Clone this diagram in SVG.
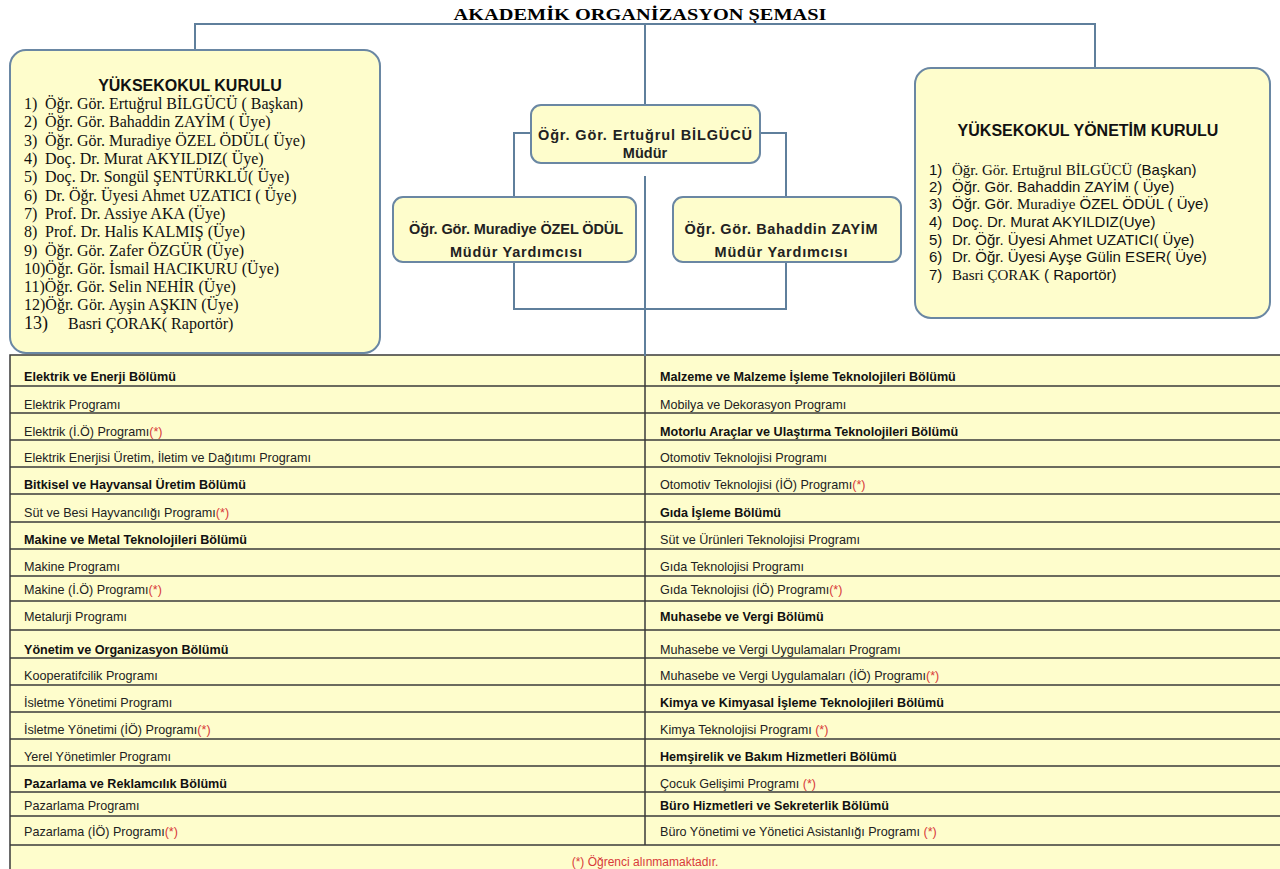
<svg xmlns="http://www.w3.org/2000/svg" width="1280" height="869" viewBox="0 0 1280 869">
<style>
.bg{fill:#ffffff}
.box{fill:#fefdcc;stroke:#6a87a3;stroke-width:2}
.conn{fill:none;stroke:#5f7f9c;stroke-width:2}
.tbl{fill:#fefdcc;stroke:#3a3a3a;stroke-width:1.5}
.rl{stroke:#3a3a3a;stroke-width:1.5}
.title{font-family:"Liberation Serif","Times New Roman",serif;font-weight:bold;font-size:17px;fill:#000}
.hd{font-family:"Liberation Sans",Arial,sans-serif;font-weight:bold;font-size:16px;fill:#111}
.ser{font-family:"Liberation Serif","Times New Roman",serif;font-size:16px;fill:#111}
.san{font-family:"Liberation Sans",Arial,sans-serif;font-size:15px;fill:#111}
.sr{font-family:"Liberation Serif","Times New Roman",serif}
.nb{font-family:"Liberation Sans",Arial,sans-serif;font-weight:bold;font-size:14.5px;fill:#222}
.t{font-family:"Liberation Sans",Arial,sans-serif;font-size:12.6px;fill:#222}
.b{font-weight:bold;fill:#111}
.red{fill:#d83a3a}
.note{font-family:"Liberation Sans",Arial,sans-serif;font-size:12px;fill:#d83a3a}
</style>
<rect class="bg" x="0" y="0" width="1280" height="869"/>
<text class="title" x="640" y="20" text-anchor="middle" textLength="373" lengthAdjust="spacingAndGlyphs">AKADEMİK ORGANİZASYON ŞEMASI</text>

<g id="table">
<rect class="tbl" x="10" y="355" width="1272" height="520"/>
<line class="rl" x1="10" y1="386" x2="1282" y2="386"/>
<line class="rl" x1="10" y1="413" x2="1282" y2="413"/>
<line class="rl" x1="10" y1="440" x2="1282" y2="440"/>
<line class="rl" x1="10" y1="467" x2="1282" y2="467"/>
<line class="rl" x1="10" y1="494" x2="1282" y2="494"/>
<line class="rl" x1="10" y1="522" x2="1282" y2="522"/>
<line class="rl" x1="10" y1="549" x2="1282" y2="549"/>
<line class="rl" x1="10" y1="576" x2="1282" y2="576"/>
<line class="rl" x1="10" y1="601" x2="1282" y2="601"/>
<line class="rl" x1="10" y1="630" x2="1282" y2="630"/>
<line class="rl" x1="10" y1="658" x2="1282" y2="658"/>
<line class="rl" x1="10" y1="685" x2="1282" y2="685"/>
<line class="rl" x1="10" y1="712" x2="1282" y2="712"/>
<line class="rl" x1="10" y1="739" x2="1282" y2="739"/>
<line class="rl" x1="10" y1="766" x2="1282" y2="766"/>
<line class="rl" x1="10" y1="792" x2="1282" y2="792"/>
<line class="rl" x1="10" y1="816" x2="1282" y2="816"/>
<line class="rl" x1="10" y1="845" x2="1282" y2="845"/>
<line class="rl" x1="645" y1="355" x2="645" y2="845"/>
<text class="t b" x="24" y="381">Elektrik ve Enerji Bölümü</text>
<text class="t" x="24" y="409">Elektrik Programı</text>
<text class="t" x="24" y="436">Elektrik (İ.Ö) Programı<tspan class="red">(*)</tspan></text>
<text class="t" x="24" y="462">Elektrik Enerjisi Üretim, İletim ve Dağıtımı Programı</text>
<text class="t b" x="24" y="489">Bitkisel ve Hayvansal Üretim Bölümü</text>
<text class="t" x="24" y="517">Süt ve Besi Hayvancılığı Programı<tspan class="red">(*)</tspan></text>
<text class="t b" x="24" y="544">Makine ve Metal Teknolojileri Bölümü</text>
<text class="t" x="24" y="571">Makine Programı</text>
<text class="t" x="24" y="594">Makine (İ.Ö) Programı<tspan class="red">(*)</tspan></text>
<text class="t" x="24" y="621">Metalurji Programı</text>
<text class="t b" x="24" y="654">Yönetim ve Organizasyon Bölümü</text>
<text class="t" x="24" y="680">Kooperatifcilik Programı</text>
<text class="t" x="24" y="707">İsletme Yönetimi Programı</text>
<text class="t" x="24" y="734">İsletme Yönetimi (İÖ) Programı<tspan class="red">(*)</tspan></text>
<text class="t" x="24" y="761">Yerel Yönetimler Programı</text>
<text class="t b" x="24" y="788">Pazarlama ve Reklamcılık Bölümü</text>
<text class="t" x="24" y="810">Pazarlama Programı</text>
<text class="t" x="24" y="836">Pazarlama (İÖ) Programı<tspan class="red">(*)</tspan></text>

<text class="t b" x="660" y="381">Malzeme ve Malzeme İşleme Teknolojileri Bölümü</text>
<text class="t" x="660" y="409">Mobilya ve Dekorasyon Programı</text>
<text class="t b" x="660" y="436">Motorlu Araçlar ve Ulaştırma Teknolojileri Bölümü</text>
<text class="t" x="660" y="462">Otomotiv Teknolojisi Programı</text>
<text class="t" x="660" y="489">Otomotiv Teknolojisi (İÖ) Programı<tspan class="red">(*)</tspan></text>
<text class="t b" x="660" y="517">Gıda İşleme Bölümü</text>
<text class="t" x="660" y="544">Süt ve Ürünleri Teknolojisi Programı</text>
<text class="t" x="660" y="571">Gıda Teknolojisi Programı</text>
<text class="t" x="660" y="594">Gıda Teknolojisi (İÖ) Programı<tspan class="red">(*)</tspan></text>
<text class="t b" x="660" y="621">Muhasebe ve Vergi Bölümü</text>
<text class="t" x="660" y="654">Muhasebe ve Vergi Uygulamaları Programı</text>
<text class="t" x="660" y="680">Muhasebe ve Vergi Uygulamaları (İÖ) Programı<tspan class="red">(*)</tspan></text>
<text class="t b" x="660" y="707">Kimya ve Kimyasal İşleme Teknolojileri Bölümü</text>
<text class="t" x="660" y="734">Kimya Teknolojisi Programı <tspan class="red">(*)</tspan></text>
<text class="t b" x="660" y="761">Hemşirelik ve Bakım Hizmetleri Bölümü</text>
<text class="t" x="660" y="788">Çocuk Gelişimi Programı <tspan class="red">(*)</tspan></text>
<text class="t b" x="660" y="810">Büro Hizmetleri ve Sekreterlik Bölümü</text>
<text class="t" x="660" y="836">Büro Yönetimi ve Yönetici Asistanlığı Programı <tspan class="red">(*)</tspan></text>
<text class="note" x="645" y="866" text-anchor="middle">(*) Öğrenci alınmamaktadır.</text>
</g>

<g id="connectors">
<polyline class="conn" points="195,50 195,24 1095,24 1095,68"/>
<line class="conn" x1="645" y1="24" x2="645" y2="105"/>
<polyline class="conn" points="531,133 514,133 514,197"/>
<polyline class="conn" points="760,133 786,133 786,197"/>
<polyline class="conn" points="514,262 514,309 786,309 786,262"/>
<line class="conn" x1="645" y1="176" x2="645" y2="356"/>
</g>

<g id="yuksekokul-kurulu">
<rect class="box" x="10" y="50" width="370" height="303" rx="16"/>
<text class="hd" x="190" y="91" text-anchor="middle">YÜKSEKOKUL KURULU</text>
<text class="ser" y="109"><tspan x="24">1)</tspan><tspan x="45">Öğr. Gör. Ertuğrul BİLGÜCÜ ( Başkan)</tspan></text>
<text class="ser" y="127"><tspan x="24">2)</tspan><tspan x="45">Öğr. Gör. Bahaddin ZAYİM ( Üye)</tspan></text>
<text class="ser" y="146"><tspan x="24">3)</tspan><tspan x="45">Öğr. Gör. Muradiye ÖZEL ÖDÜL( Üye)</tspan></text>
<text class="ser" y="164"><tspan x="24">4)</tspan><tspan x="45">Doç. Dr. Murat AKYILDIZ( Üye)</tspan></text>
<text class="ser" y="182"><tspan x="24">5)</tspan><tspan x="45">Doç. Dr. Songül ŞENTÜRKLÜ( Üye)</tspan></text>
<text class="ser" y="201"><tspan x="24">6)</tspan><tspan x="45">Dr. Öğr. Üyesi Ahmet UZATICI ( Üye)</tspan></text>
<text class="ser" y="219"><tspan x="24">7)</tspan><tspan x="45">Prof. Dr. Assiye AKA (Üye)</tspan></text>
<text class="ser" y="237"><tspan x="24">8)</tspan><tspan x="45">Prof. Dr. Halis KALMIŞ (Üye)</tspan></text>
<text class="ser" y="256"><tspan x="24">9)</tspan><tspan x="45">Öğr. Gör. Zafer ÖZGÜR (Üye)</tspan></text>
<text class="ser" x="24" y="274">10)Öğr. Gör. İsmail HACIKURU (Üye)</text>
<text class="ser" x="24" y="292">11)Öğr. Gör. Selin NEHİR (Üye)</text>
<text class="ser" x="24" y="310">12)Öğr. Gör. Ayşin AŞKIN (Üye)</text>
<text class="ser" y="329"><tspan x="24" font-size="18">13)</tspan><tspan x="68">Basri ÇORAK( Raportör)</tspan></text>
</g>

<g id="mudur">
<rect class="box" x="531" y="105" width="229" height="58" rx="10"/>
<text class="nb" x="645" y="140" text-anchor="middle" textLength="214" lengthAdjust="spacing">Öğr. Gör. Ertuğrul BİLGÜCÜ</text>
<text class="nb" x="645" y="158" text-anchor="middle">Müdür</text>
</g>

<g id="mudur-yardimcisi-1">
<rect class="box" x="393" y="197" width="243" height="65" rx="10"/>
<text class="nb" x="516" y="234" text-anchor="middle" textLength="214" lengthAdjust="spacing">Öğr. Gör. Muradiye ÖZEL ÖDÜL</text>
<text class="nb" x="516" y="257" text-anchor="middle" textLength="132" lengthAdjust="spacing">Müdür Yardımcısı</text>
</g>

<g id="mudur-yardimcisi-2">
<rect class="box" x="673" y="197" width="228" height="65" rx="10"/>
<text class="nb" x="781" y="234" text-anchor="middle" textLength="193" lengthAdjust="spacing">Öğr. Gör. Bahaddin ZAYİM</text>
<text class="nb" x="781" y="257" text-anchor="middle" textLength="133" lengthAdjust="spacing">Müdür Yardımcısı</text>
</g>

<g id="yonetim-kurulu">
<rect class="box" x="915" y="68" width="355" height="250" rx="16"/>
<text class="hd" x="1088" y="136" text-anchor="middle">YÜKSEKOKUL YÖNETİM KURULU</text>
<text class="san" y="175"><tspan x="929">1)</tspan><tspan x="952" class="sr">Öğr. Gör. Ertuğrul BİLGÜCÜ</tspan><tspan> (Başkan)</tspan></text>
<text class="san" y="192"><tspan x="929">2)</tspan><tspan x="952">Öğr. Gör. Bahaddin ZAYİM ( Üye)</tspan></text>
<text class="san" y="209"><tspan x="929">3)</tspan><tspan x="952">Öğr. Gör. </tspan><tspan class="sr">Muradiye</tspan><tspan> ÖZEL ÖDÜL ( Üye)</tspan></text>
<text class="san" y="227"><tspan x="929">4)</tspan><tspan x="952">Doç. Dr. Murat AKYILDIZ(Uye)</tspan></text>
<text class="san" y="245"><tspan x="929">5)</tspan><tspan x="952">Dr. Öğr. Üyesi Ahmet UZATICI( Üye)</tspan></text>
<text class="san" y="262"><tspan x="929">6)</tspan><tspan x="952">Dr. Öğr. Üyesi Ayşe Gülin ESER( Üye)</tspan></text>
<text class="san" y="280"><tspan x="929">7)</tspan><tspan x="952" class="sr">Basri ÇORAK</tspan><tspan> ( Raportör)</tspan></text>
</g>
</svg>
